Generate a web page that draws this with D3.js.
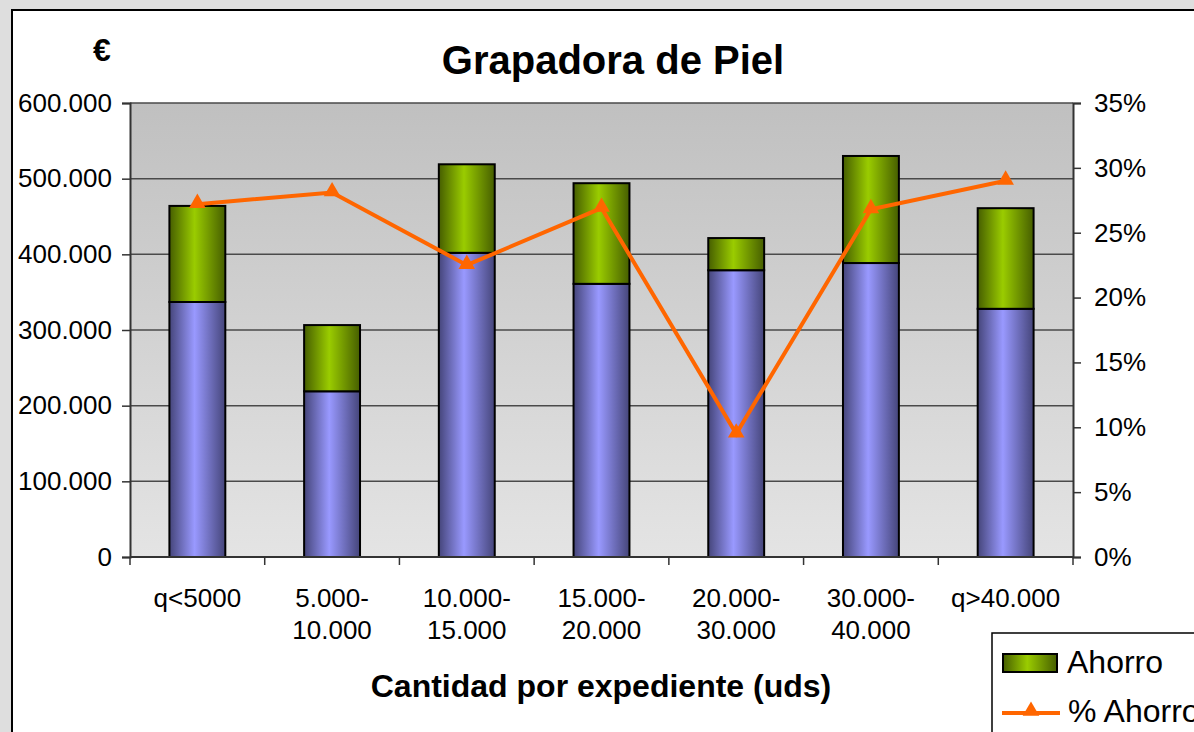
<!DOCTYPE html>
<html>
<head>
<meta charset="utf-8">
<script src="https://cdn.jsdelivr.net/npm/d3@7"></script>
<style>
  body { margin: 0; background: #dedede; overflow: hidden; }
  svg { display: block; font-family: "Liberation Sans", Arial, sans-serif; }
</style>
</head>
<body>
<svg width="1194" height="732"></svg>
<script>
const categories = [["q<5000"], ["5.000-", "10.000"], ["10.000-", "15.000"], ["15.000-", "20.000"],
                    ["20.000-", "30.000"], ["30.000-", "40.000"], ["q>40.000"]];
const base   = [337000, 219000, 402000, 361000, 379000, 388500, 328000];
const ahorro = [127000, 87500, 117000, 133000, 42500, 141500, 133000];
const pctAhorro = [27.2, 28.1, 22.5, 26.9, 9.5, 26.8, 29.0];
const leftTicks = [0, 100000, 200000, 300000, 400000, 500000, 600000];
const rightTicks = [0, 5, 10, 15, 20, 25, 30, 35];

const svg = d3.select("svg");
const m = {left: 130, right: 1073, top: 103, bottom: 557};

const defs = svg.append("defs");
const bg = defs.append("linearGradient").attr("id", "bg").attr("x1", 0).attr("x2", 0).attr("y1", 0).attr("y2", 1);
bg.append("stop").attr("offset", "0%").attr("stop-color", "#c0c0c0");
bg.append("stop").attr("offset", "100%").attr("stop-color", "#e4e4e4");

function barGrad(id, dark, light) {
  const g = defs.append("linearGradient").attr("id", id).attr("x1", 0).attr("x2", 1).attr("y1", 0).attr("y2", 0);
  g.append("stop").attr("offset", "0%").attr("stop-color", dark);
  g.append("stop").attr("offset", "45%").attr("stop-color", light);
  g.append("stop").attr("offset", "100%").attr("stop-color", dark);
}
barGrad("gBlue", "#45457a", "#9999ff");
barGrad("gGreen", "#465e00", "#9acc00");

// chart frame
svg.append("rect").attr("x", 12).attr("y", 10).attr("width", 1200).attr("height", 740)
  .attr("fill", "#fff").attr("stroke", "#000").attr("stroke-width", 2);

const x = d3.scaleBand().domain(d3.range(categories.length)).range([m.left, m.right]).paddingInner(0.585).paddingOuter(0.2925);
const y = d3.scaleLinear().domain([0, 600000]).range([m.bottom, m.top]);
const y2 = d3.scaleLinear().domain([0, 35]).range([m.bottom, m.top]);

svg.append("rect").attr("x", m.left).attr("y", m.top)
  .attr("width", m.right - m.left).attr("height", m.bottom - m.top).attr("fill", "url(#bg)");

// gridlines
svg.append("g").selectAll("line").data(leftTicks.slice(1)).join("line")
  .attr("x1", m.left).attr("x2", m.right).attr("y1", d => y(d)).attr("y2", d => y(d))
  .attr("stroke", "#4a4a4a").attr("stroke-width", 1.5);

// bars
const bars = svg.append("g");
bars.selectAll(".b").data(base).join("rect")
  .attr("x", (d, i) => x(i)).attr("width", x.bandwidth())
  .attr("y", d => y(d)).attr("height", d => y(0) - y(d))
  .attr("fill", "url(#gBlue)").attr("stroke", "#000").attr("stroke-width", 2);
bars.selectAll(".g").data(ahorro).join("rect")
  .attr("x", (d, i) => x(i)).attr("width", x.bandwidth())
  .attr("y", (d, i) => y(base[i] + d)).attr("height", (d, i) => y(base[i]) - y(base[i] + d))
  .attr("fill", "url(#gGreen)").attr("stroke", "#000").attr("stroke-width", 2);

// axes
const fontSize = "26px";
const yAxis = svg.append("g").attr("transform", `translate(${m.left},0)`)
  .call(d3.axisLeft(y).tickValues(leftTicks).tickSize(8).tickPadding(10)
    .tickFormat(d => d === 0 ? "0" : d3.format(",")(d).replace(/,/g, ".")));
const y2Axis = svg.append("g").attr("transform", `translate(${m.right},0)`)
  .call(d3.axisRight(y2).tickValues(rightTicks).tickSize(8).tickPadding(13).tickFormat(d => d + "%"));
const xAxis = svg.append("g").attr("transform", `translate(0,${m.bottom})`)
  .call(d3.axisBottom(x).tickSize(0).tickFormat(""));
[yAxis, y2Axis, xAxis].forEach(a => {
  a.select(".domain").attr("stroke", "#333").attr("stroke-width", 2);
  a.selectAll(".tick line").attr("stroke", "#333").attr("stroke-width", 1.5);
  a.selectAll("text").attr("font-size", fontSize).attr("fill", "#000").attr("font-family", "Liberation Sans, Arial, sans-serif");
});
xAxis.select(".domain").attr("d", `M${m.left},0H${m.right}`);
// category boundary ticks
const step = (m.right - m.left) / categories.length;
svg.append("g").selectAll("line").data(d3.range(categories.length + 1)).join("line")
  .attr("x1", i => m.left + i * step).attr("x2", i => m.left + i * step)
  .attr("y1", m.bottom).attr("y2", m.bottom + 8).attr("stroke", "#333").attr("stroke-width", 1.5);

// category labels
const labels = svg.append("g").attr("font-size", fontSize).attr("text-anchor", "middle");
categories.forEach((c, i) => {
  const t = labels.append("text").attr("x", x(i) + x.bandwidth() / 2).attr("y", 607);
  c.forEach((line, j) => t.append("tspan").attr("x", x(i) + x.bandwidth() / 2).attr("dy", j ? 32 : 0).text(line));
});

// % line
const lx = i => x(i) + x.bandwidth() / 2;
svg.append("path").datum(pctAhorro)
  .attr("d", d3.line().x((d, i) => lx(i)).y(d => y2(d)))
  .attr("fill", "none").attr("stroke", "#ff6600").attr("stroke-width", 4).attr("stroke-linejoin", "miter");
svg.append("g").selectAll("path").data(pctAhorro).join("path")
  .attr("d", d3.symbol(d3.symbolTriangle, 120))
  .attr("transform", (d, i) => `translate(${lx(i)},${y2(d) - 1})`)
  .attr("fill", "#ff6600");

// titles
svg.append("text").attr("x", 613).attr("y", 74).attr("text-anchor", "middle")
  .attr("font-size", "40px").attr("font-weight", "bold").text("Grapadora de Piel");
svg.append("text").attr("x", 102).attr("y", 61).attr("text-anchor", "middle")
  .attr("font-size", "32px").attr("font-weight", "bold").text("€");
svg.append("text").attr("x", 601).attr("y", 697).attr("text-anchor", "middle")
  .attr("font-size", "32px").attr("font-weight", "bold").text("Cantidad por expediente (uds)");

// legend
const lg = svg.append("g");
lg.append("rect").attr("x", 992).attr("y", 633).attr("width", 230).attr("height", 130)
  .attr("fill", "#fff").attr("stroke", "#000").attr("stroke-width", 1.5);
lg.append("rect").attr("x", 1003).attr("y", 654).attr("width", 54).attr("height", 18)
  .attr("fill", "url(#gGreen)").attr("stroke", "#000").attr("stroke-width", 2);
lg.append("text").attr("x", 1067).attr("y", 673).attr("font-size", "32px").text("Ahorro");
lg.append("line").attr("x1", 1002).attr("x2", 1060).attr("y1", 713).attr("y2", 713)
  .attr("stroke", "#ff6600").attr("stroke-width", 4);
lg.append("path").attr("d", d3.symbol(d3.symbolTriangle, 120))
  .attr("transform", "translate(1031,711)").attr("fill", "#ff6600");
lg.append("text").attr("x", 1068).attr("y", 722).attr("font-size", "32px").text("% Ahorro");
</script>
</body>
</html>
